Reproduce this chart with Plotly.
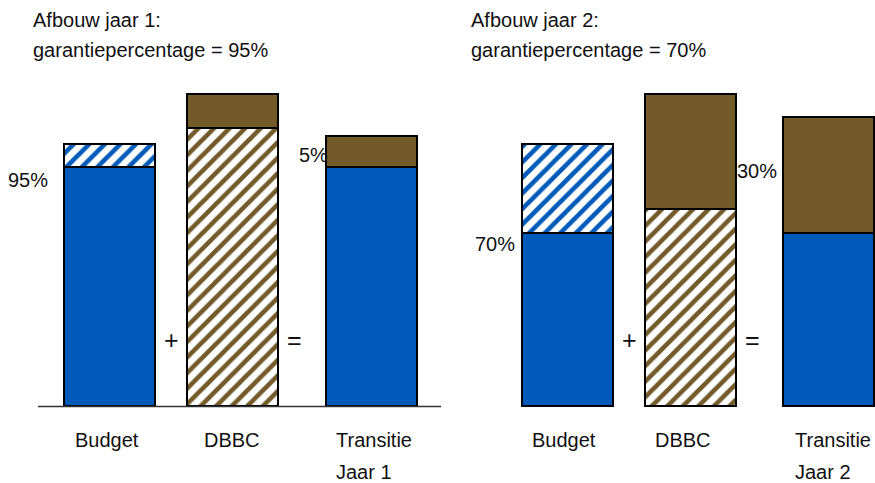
import plotly.graph_objects as go

# ---- data ----
years = ["jaar 1", "jaar 2"]
guarantee = [95, 70]              # garantiepercentage
complement = [5, 30]              # remaining share
categories = ["Budget", "DBBC", "Transitie"]
budget_base = [91, 66]            # solid blue part of Budget
budget_top = [9, 34]              # hatched blue part of Budget
dbbc_hatch = [106, 75]            # hatched brown part of DBBC
dbbc_solid = [13, 44]             # solid brown part of DBBC
trans_base = [91, 66]             # blue part of Transitie
trans_top = [12, 44]              # brown part of Transitie

# ---- layout helpers (pixel-based positions) ----
W, H = 875, 483
BASE_PX = 406.5
UNIT_PX = 2.62
BLUE = "#005AB9"
BROWN = "#725B29"
FONT = "Liberation Sans, Arial, Helvetica, sans-serif"
FS = 20

budget_x = [110.3, 568.7]
dbbc_x = [233.0, 691.3]
trans_x = [372.3, 829.8]
BAR_W = 91

def yp(py):
    return 1 - py / H

outline = dict(color="black", width=1.6)

def bar(x, y, color, hatch=False):
    if hatch:
        marker = dict(color="white", line=outline,
                      pattern=dict(shape="/", fgcolor=color, bgcolor="white",
                                   fgopacity=1, size=11, solidity=0.42))
    else:
        marker = dict(color=color, line=outline)
    return go.Bar(x=x, y=y, width=BAR_W, marker=marker, showlegend=False,
                  hoverinfo="skip")

fig = go.Figure()
fig.add_trace(bar(budget_x, budget_base, BLUE))
fig.add_trace(bar(budget_x, budget_top, BLUE, hatch=True))
fig.add_trace(bar(dbbc_x, dbbc_hatch, BROWN, hatch=True))
fig.add_trace(bar(dbbc_x, dbbc_solid, BROWN))
fig.add_trace(bar(trans_x, trans_base, BLUE))
fig.add_trace(bar(trans_x, trans_top, BROWN))

ann = []
def text(x, py, t, xanchor="center", size=FS):
    ann.append(dict(x=x, y=yp(py), xref="x", yref="paper", text=t,
                    showarrow=False, xanchor=xanchor, yanchor="middle",
                    font=dict(family=FONT, size=size, color="#111111")))

title_x = [31, 469]
pct_left_x = [50, 517]
pct_left_py = [180, 244]
pct_right_x = [297, 735]
pct_right_py = [155, 171]
plus_x = [171, 629]
eq_x = [294, 752]
lab_budget_x = [107, 564]
lab_dbbc_x = [232, 683]
lab_trans_x = [334, 793]

for i, yr in enumerate(years):
    text(title_x[i], 20, f"Afbouw {yr}:", "left")
    text(title_x[i], 50, f"garantiepercentage = {guarantee[i]}%", "left")
    text(pct_left_x[i], pct_left_py[i], f"{guarantee[i]}%", "right")
    text(pct_right_x[i], pct_right_py[i], f"{complement[i]}%", "left")
    text(plus_x[i], 340, "+", size=25)
    text(eq_x[i], 340, "=", size=25)
    text(lab_budget_x[i], 440, categories[0])
    text(lab_dbbc_x[i], 440, categories[1])
    text(lab_trans_x[i], 440, categories[2], "left")
    text(lab_trans_x[i], 472, yr.replace("jaar", "Jaar"), "left")

fig.update_layout(
    width=W, height=H,
    margin=dict(l=0, r=0, t=0, b=0),
    paper_bgcolor="white", plot_bgcolor="white",
    barmode="stack", bargap=0,
    annotations=ann,
    shapes=[dict(type="line", xref="x", yref="y", x0=38, x1=441, y0=0, y1=0,
                 line=dict(color="#333333", width=1.5))],
    xaxis=dict(range=[0, W], visible=False, fixedrange=True),
    yaxis=dict(range=[-(H - BASE_PX) / UNIT_PX, BASE_PX / UNIT_PX],
               visible=False, fixedrange=True),
)

fig.write_html("out.html", config={"displayModeBar": False},
               post_script="document.body.style.margin='0';document.body.style.overflow='hidden';")
